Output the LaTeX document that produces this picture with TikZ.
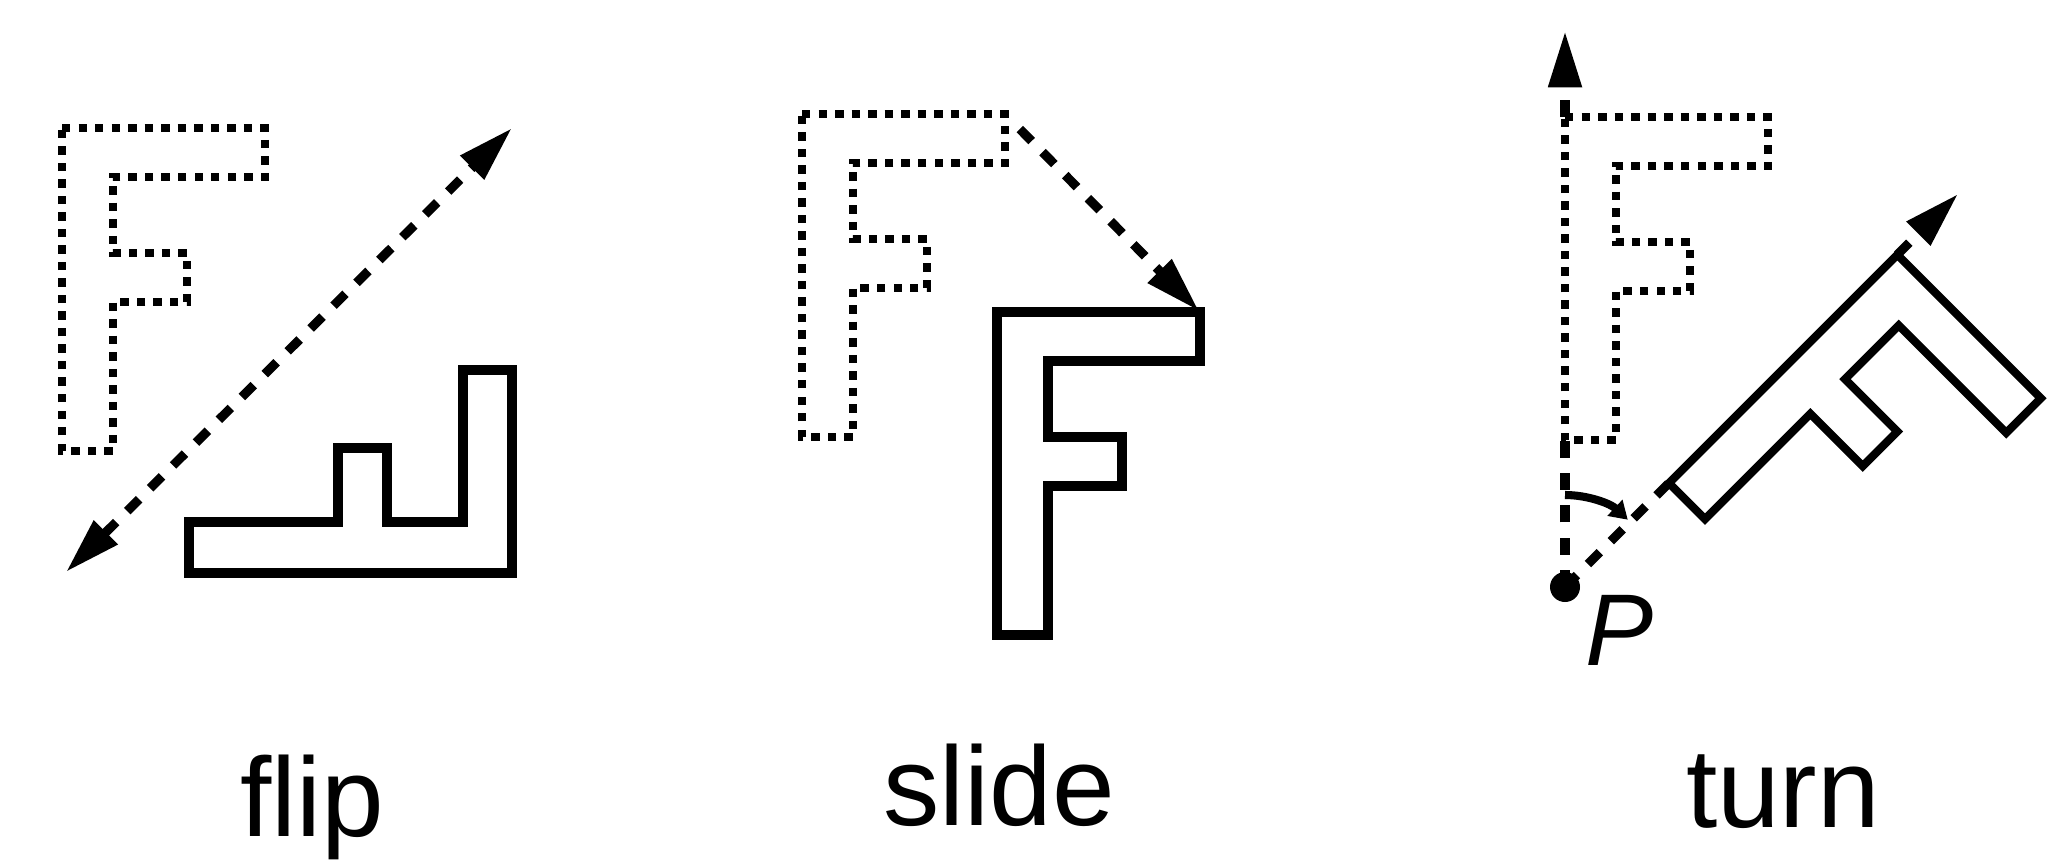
\documentclass[tikz,border=0pt]{standalone}
\usepackage{fontspec}
\setmainfont{Liberation Sans}
\usetikzlibrary{arrows.meta}

\begin{document}
\begin{tikzpicture}[x=0.01cm, y=0.01cm,
  >={Triangle[length=16pt,width=9pt]},
  oldF/.style={line width=2.5pt, dash pattern=on 2.4pt off 2.3pt},
  newF/.style={line width=3pt},
  newFthin/.style={line width=2.3pt},
  move/.style={line width=2.6pt, dash pattern=on 4.8pt off 4.4pt},
  caption/.style={font=\fontsize{32}{38}\selectfont, anchor=base, inner sep=0pt},
  letterF/.pic={\draw[pic actions] (0,0) -- (203,0) -- (203,-49) -- (51,-49) -- (51,-125) -- (125,-125) -- (125,-174) -- (51,-174) -- (51,-323) -- (0,-323) -- cycle;}]
\useasboundingbox (0,0) rectangle (2048,-860);

% flip
\pic[oldF] at (62,-128) {letterF};
\draw[newF] (512,-573) -- (512,-370) -- (463,-370) -- (463,-522) -- (387,-522) -- (387,-448) -- (338,-448) -- (338,-522) -- (189,-522) -- (189,-573) -- cycle;
\coordinate (flipA) at (66,-572);
\coordinate (flipB) at (512,-128);
\draw[move, <->] (flipA) -- (flipB);
\node[caption] (flip) at (312,-836) {flip};

% slide
\pic[oldF] at (802,-114) {letterF};
\pic[newF] at (997,-312) {letterF};
\coordinate (slideA) at (1005,-114);
\coordinate (slideB) at (1199,-311);
\draw[move, ->, shorten <=6pt] (slideA) -- (slideB);
\node[caption] (slide) at (999,-825) {slide};

% turn
\coordinate (P) at (1565,-587);
\pic[oldF] at (1565,-117) {letterF};
\coordinate (upTL) at (1565,-117);
\coordinate (upBL) at (1565,-440);
\coordinate (upTip) at (1565,-31);
\begin{scope}[rotate around={-45:(P)}]
  \pic[newFthin, transform shape] at (1565,-117) {letterF};
  \coordinate (rotTL) at (1565,-117);
  \coordinate (rotBL) at (1565,-440);
  \coordinate (rotTip) at (1565,-31);
\end{scope}
\draw[move] (P) -- (upBL);
\draw[move, ->] (upTL) -- (upTip);
\draw[move] (P) -- (rotBL);
\draw[move, ->] (rotTL) -- (rotTip);
\draw[line width=2.3pt, -{Triangle[length=5pt,width=6pt]}] (P) ++(90:92) arc[start angle=90, end angle=47, radius=92];
\fill (P) circle[radius=15];
\node[anchor=base west, inner sep=0pt, font=\fontsize{29}{34}\selectfont\itshape] (Plabel) at (1585,-665) {P};
\node[caption] (turn) at (1783,-827) {turn};
\end{tikzpicture}
\end{document}
